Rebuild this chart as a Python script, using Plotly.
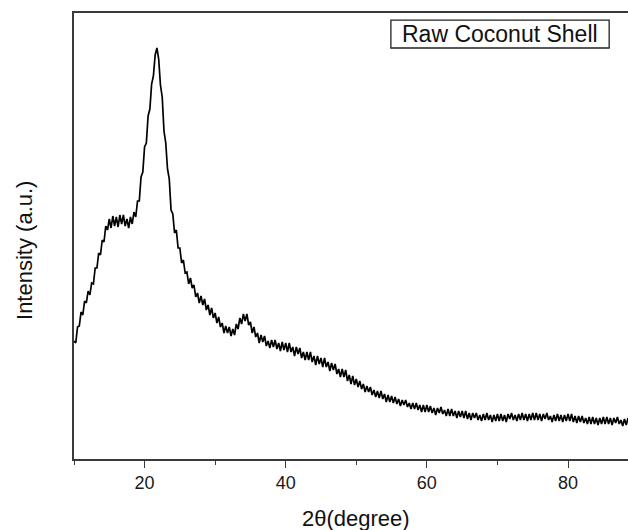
import plotly.graph_objects as go

# XRD scan: start angle and step (degrees 2θ)
scan_start = 10.0
scan_step = 0.25

# Intensity (a.u.), one row per 5° of 2θ
intensity = (
    [118, 116, 132, 133, 147, 144, 158, 156, 168, 164, 176, 175, 191, 191, 206, 204, 219, 217, 233, 229]
    + [240, 231, 243, 233, 242, 232, 244, 235, 244, 233, 240, 231, 242, 235, 247, 242, 258, 258, 282, 287]
    + [312, 316, 343, 350, 375, 383, 404, 411, 400, 374, 362, 328, 316, 290, 280, 249, 245, 226, 229, 211]
    + [211, 196, 199, 186, 187, 175, 181, 171, 174, 162, 166, 156, 163, 154, 160, 149, 154, 144, 151, 141]
    + [146, 136, 142, 132, 136, 126, 133, 126, 132, 123, 130, 124, 135, 130, 141, 135, 145, 138, 145, 134]
    + [137, 126, 132, 122, 126, 116, 124, 117, 123, 113, 118, 111, 119, 112, 119, 110, 116, 108, 117, 109]
    + [116, 107, 116, 107, 112, 103, 112, 105, 111, 101, 107, 99, 107, 99, 107, 97, 103, 94, 103, 95]
    + [101, 92, 101, 92, 97, 88, 96, 89, 95, 85, 90, 82, 90, 82, 89, 78, 84, 75, 83, 74]
    + [80, 72, 78, 70, 75, 67, 73, 67, 72, 64, 69, 62, 68, 61, 68, 60, 65, 57, 64, 57]
    + [63, 56, 62, 55, 60, 53, 59, 54, 59, 52, 56, 50, 56, 50, 56, 49, 54, 47, 54, 47]
    + [54, 47, 53, 46, 51, 44, 51, 46, 52, 45, 49, 43, 50, 43, 50, 43, 48, 41, 48, 42]
    + [48, 41, 48, 40, 46, 39, 46, 41, 46, 39, 44, 38, 45, 39, 46, 39, 44, 37, 44, 38]
    + [45, 38, 45, 38, 44, 37, 45, 40, 46, 39, 44, 38, 45, 39, 46, 39, 45, 38, 45, 39]
    + [46, 39, 46, 39, 45, 38, 45, 40, 46, 39, 43, 37, 44, 38, 45, 38, 44, 37, 44, 38]
    + [45, 38, 45, 37, 43, 36, 43, 37, 43, 36, 41, 35, 42, 35, 42, 35, 41, 34, 41, 35]
    + [42, 35, 42, 35, 41, 34, 41, 36, 42, 35, 39, 33, 40, 34, 41]
)
two_theta = [round(scan_start + scan_step * i, 2) for i in range(len(intensity))]

x_ticks = [20, 40, 60, 80]
x_tick_labels = ["20", "40", "60", "80"]
x_minor_ticks = [10, 30, 50, 70]
legend_label = "Raw Coconut Shell"
x_title = "2θ(degree)"
y_title = "Intensity (a.u.)"

FONT = "Liberation Sans, Arial, sans-serif"
AX = "#3a3a3a"

fig = go.Figure()
fig.add_trace(go.Scatter(
    x=two_theta, y=intensity, mode="lines",
    line=dict(color="black", width=1.7),
    showlegend=False, hoverinfo="skip",
))

fig.update_layout(
    width=628, height=530,
    margin=dict(l=74, r=0, t=13, b=71),
    paper_bgcolor="white", plot_bgcolor="white",
    font=dict(family=FONT, color="#1a1a1a"),
    showlegend=False,
)
fig.update_xaxes(
    range=[10, 88.5], showgrid=False, zeroline=False,
    showline=True, linecolor=AX, linewidth=1.6, mirror=True,
    tickmode="array", tickvals=x_ticks, ticktext=x_tick_labels,
    ticks="outside", ticklen=7, tickwidth=1.4, tickcolor=AX,
    tickfont=dict(size=18, family=FONT, color="#1a1a1a"),
    minor=dict(tickmode="array", tickvals=x_minor_ticks, ticks="outside",
               ticklen=4, tickwidth=1.4, tickcolor=AX, showgrid=False),
)
fig.update_yaxes(
    range=[0, 446], showgrid=False, zeroline=False,
    showline=True, linecolor=AX, linewidth=1.6, mirror=False,
    ticks="", showticklabels=False,
)

# legend-style label box
fig.add_shape(type="rect", xref="paper", yref="paper",
              x0=0.572, x1=0.966, y0=0.9215, y1=0.984,
              line=dict(color="#222222", width=1.3), fillcolor="white")
fig.add_annotation(text=legend_label, xref="paper", yref="paper",
                   x=0.769, y=0.953, xanchor="center", yanchor="middle",
                   showarrow=False, font=dict(size=23, family=FONT, color="#111111"))
# axis titles
fig.add_annotation(text=x_title, xref="paper", yref="paper",
                   x=0.509, y=-0.1323, xanchor="center", yanchor="middle",
                   showarrow=False, font=dict(size=22, family=FONT, color="#111111"))
fig.add_annotation(text=y_title, xref="paper", yref="paper",
                   x=-0.0903, y=0.4686, xanchor="center", yanchor="middle",
                   textangle=-90, showarrow=False,
                   font=dict(size=22, family=FONT, color="#111111"))

fig.write_html(
    "out.html",
    config={"displayModeBar": False},
    post_script="document.body.style.margin='0';document.body.style.overflow='hidden';",
)
